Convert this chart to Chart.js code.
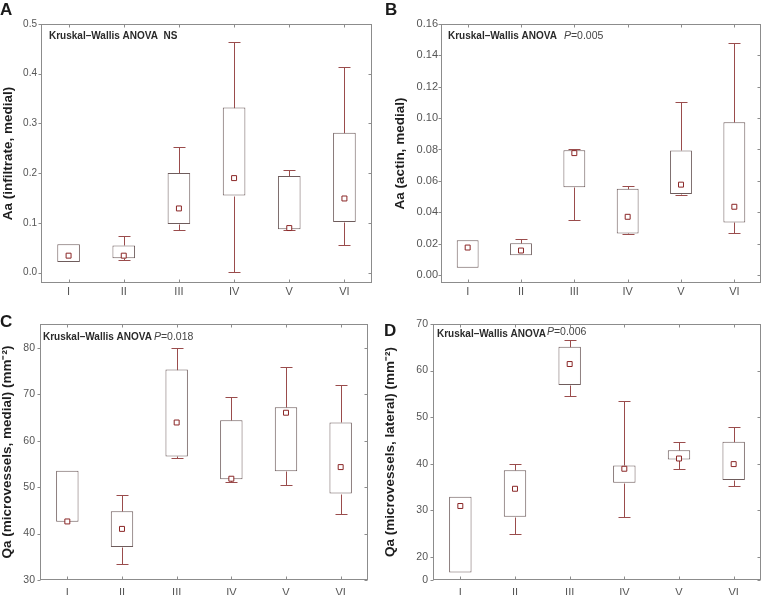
<!DOCTYPE html>
<html>
<head>
<meta charset="utf-8">
<script src="https://cdn.jsdelivr.net/npm/chart.js@4.4.0/dist/chart.umd.min.js"></script>
<style>
    html, body { margin: 0; padding: 0; background: #fff; }
    #wrap { position: relative; width: 766px; height: 595px; overflow: hidden; background: #fff; }
    #wrap canvas { position: absolute; }
    .tag { position: absolute; font: bold 17px "Liberation Sans", Arial, sans-serif; line-height: 17px; color: #1a1a1a; }
</style>
</head>
<body>
<div id="wrap">
    <canvas id="chartA" width="383" height="300" style="left:0;top:0"></canvas>
    <canvas id="chartB" width="383" height="300" style="left:383px;top:0"></canvas>
    <canvas id="chartC" width="383" height="300" style="left:0;top:295px"></canvas>
    <canvas id="chartD" width="383" height="300" style="left:383px;top:295px"></canvas>
    <div class="tag" style="left:0;top:1px">A</div>
    <div class="tag" style="left:385px;top:1px">B</div>
    <div class="tag" style="left:0;top:313px">C</div>
    <div class="tag" style="left:384px;top:322px">D</div>
</div>
<script>
// Groups
const groups = ['I', 'II', 'III', 'IV', 'V', 'VI'];

// A - Aa (infiltrate, medial)
const aMin = [null, 0.025, 0.0855, 0.0007, 0.0855, 0.055];
const aQ1  = [0.021, 0.029, 0.0976, 0.155, 0.087, 0.1016];
const aMed = [0.034, 0.034, 0.129, 0.19, 0.0895, 0.149];
const aQ3  = [0.057, 0.0545, 0.2005, 0.332, 0.194, 0.281];
const aMax = [null, 0.074, 0.252, 0.463, 0.206, 0.4125];
const aTicks = [0, 0.1, 0.2, 0.3, 0.4, 0.5];
const aTickLabels = ['0.0', '0.1', '0.2', '0.3', '0.4', '0.5'];

// B - Aa (actin, medial)
const bMin = [null, null, 0.0348, 0.026, 0.0508, 0.0267];
const bQ1  = [0.0047, 0.0126, 0.0559, 0.0265, 0.0516, 0.0335];
const bMed = [0.0175, 0.0156, 0.0777, 0.0371, 0.0576, 0.0435];
const bQ3  = [0.0222, 0.0203, 0.0796, 0.055, 0.0794, 0.0973];
const bMax = [null, 0.023, 0.0802, 0.0565, 0.1105, 0.148];
const bTicks = [0, 0.02, 0.04, 0.06, 0.08, 0.10, 0.12, 0.14, 0.16];
const bTickLabels = ['0.00', '0.02', '0.04', '0.06', '0.08', '0.10', '0.12', '0.14', '0.16'];

// C - Qa (microvessels, medial)
const cMin = [null, 33.4, 56.3, 51.2, 50.4, 44.3];
const cQ1  = [42.55, 37.1, 56.6, 51.7, 53.4, 48.6];
const cMed = [42.6, 41.0, 63.9, 51.8, 66.0, 54.3];
const cQ3  = [53.5, 44.8, 75.3, 64.4, 67.2, 63.9];
const cMax = [null, 48.4, 79.9, 69.3, 75.8, 72.0];
const cTicks = [30, 40, 50, 60, 70, 80];
const cTickLabels = ['30', '40', '50', '60', '70', '80'];

// D - Qa (microvessels, lateral); axis is broken, bottom tick stands for 0
const dMin = [null, 24.9, 54.6, 28.5, 38.9, 35.3];
const dQ1  = [16.6, 28.6, 56.9, 35.9, 40.9, 36.5];
const dMed = [30.9, 34.6, 61.4, 38.9, 41.1, 39.9];
const dQ3  = [32.9, 38.6, 65.1, 39.6, 42.9, 44.7];
const dMax = [null, 39.86, 66.6, 53.4, 44.7, 47.9];
const dTicks = [15, 20, 30, 40, 50, 60, 70];
const dTickLabels = ['0', '20', '30', '40', '50', '60', '70'];

const BOX_COLOR = '#6e5c5c';
const WHISKER_COLOR = '#9a4c4c';
const MEDIAN_COLOR = '#8a2626';
const FRAME_COLOR = '#8c8c8c';
const FONT = '"Liberation Sans", Arial, sans-serif';

const crisp = v => Math.round(v) + 0.5;

// whisker stems and caps, drawn from the min / max arrays
const whiskerPlugin = {
    id: 'whiskers',
    beforeDatasetsDraw(chart, args, opts) {
        const ctx = chart.ctx;
        const xs = chart.scales.x, ys = chart.scales.y;
        ctx.save();
        ctx.strokeStyle = WHISKER_COLOR;
        ctx.lineWidth = 1;
        ctx.beginPath();
        groups.forEach((g, i) => {
            const x = crisp(xs.getPixelForValue(i));
            [[opts.max[i], opts.q3[i]], [opts.min[i], opts.q1[i]]].forEach(([end, edge]) => {
                if (end === null) return;
                const ye = crisp(ys.getPixelForValue(end));
                const yb = crisp(ys.getPixelForValue(edge));
                ctx.moveTo(x, ye); ctx.lineTo(x, yb);
                ctx.moveTo(x - 6, ye); ctx.lineTo(x + 6, ye);
            });
        });
        ctx.stroke();
        ctx.restore();
    }
};

// frame, small tick marks and the test note
const framePlugin = {
    id: 'frame',
    afterDraw(chart, args, opts) {
        const ctx = chart.ctx;
        const area = chart.chartArea;
        const l = Math.round(area.left) + 0.5, r = Math.round(area.right) - 0.5;
        const t = Math.round(area.top) + 0.5, b = Math.round(area.bottom) - 0.5;
        ctx.save();
        ctx.strokeStyle = FRAME_COLOR;
        ctx.lineWidth = 1;
        ctx.strokeRect(l, t, r - l, b - t);

        ctx.beginPath();
        chart.scales.y.ticks.forEach(tk => {
            const y = crisp(chart.scales.y.getPixelForValue(tk.value));
            ctx.moveTo(l - 3, y); ctx.lineTo(l, y);
            ctx.moveTo(r - 3, y); ctx.lineTo(r, y);
        });
        groups.forEach((g, i) => {
            const x = crisp(chart.scales.x.getPixelForValue(i));
            ctx.moveTo(x, t); ctx.lineTo(x, t + 3);
            ctx.moveTo(x, b); ctx.lineTo(x, b - 3);
        });
        ctx.stroke();

        // Kruskal-Wallis note
        const n = opts.note;
        if (n) {
            let x = area.left + n.dx;
            const y = area.top + n.dy;
            ctx.fillStyle = '#2a2a2a';
            ctx.textBaseline = 'middle';
            ctx.textAlign = 'left';
            ctx.font = 'bold 10px ' + FONT;
            ctx.fillText(n.label, x, y);
            if (n.p) {
                x += ctx.measureText(n.label).width + n.gap;
                ctx.fillStyle = '#444';
                ctx.font = 'italic 10.5px ' + FONT;
                ctx.fillText('P', x, y + n.pDy);
                x += ctx.measureText('P').width;
                ctx.font = '10.5px ' + FONT;
                ctx.fillText('=' + n.p, x, y + n.pDy);
            }
        }
        ctx.restore();
    }
};

function makePanel(id, s) {
    const box = s.q1.map((v, i) => [v, s.q3[i]]);

    return new Chart(document.getElementById(id), {
        type: 'bar',
        data: {
            labels: groups,
            datasets: [
                {
                    // box 25%-75%
                    data: box,
                    barPercentage: 0.41,
                    categoryPercentage: 1,
                    backgroundColor: '#ffffff',
                    borderColor: BOX_COLOR,
                    borderWidth: 1,
                    borderSkipped: false,
                    order: 4
                },
                {
                    // median
                    type: 'line',
                    data: s.med,
                    showLine: false,
                    pointStyle: 'rect',
                    pointRadius: 3.5,
                    pointBorderWidth: 1,
                    pointBackgroundColor: '#ffffff',
                    pointBorderColor: MEDIAN_COLOR,
                    order: 1
                }
            ]
        },
        options: {
            responsive: false,
            devicePixelRatio: 1,
            animation: false,
            events: [],
            layout: {
                padding: { left: 0, top: s.top, right: s.right, bottom: 0 }
            },
            plugins: {
                legend: { display: false },
                tooltip: { enabled: false },
                frame: { note: s.note },
                whiskers: { min: s.min, q1: s.q1, q3: s.q3, max: s.max }
            },
            scales: {
                x: {
                    offset: true,
                    grid: { display: false, drawTicks: false },
                    border: { display: false },
                    ticks: {
                        padding: s.xPad,
                        color: '#555',
                        font: { family: FONT, size: 11 }
                    },
                    afterFit: function(scale) { scale.height = s.xHeight; }
                },
                y: {
                    min: s.yMin,
                    max: s.yMax,
                    grid: { display: false, drawTicks: false },
                    border: { display: false },
                    afterBuildTicks: function(scale) {
                        scale.ticks = s.ticks.map(v => ({ value: v }));
                    },
                    ticks: {
                        padding: s.tickPad,
                        color: '#555',
                        font: { family: FONT, size: s.tickSize },
                        callback: function(value, index) { return s.tickLabels[index]; }
                    },
                    title: {
                        display: true,
                        text: s.title,
                        color: '#1e1e1e',
                        padding: { top: s.titlePad, bottom: 0 },
                        font: { family: FONT, size: 13.5, weight: 'bold', lineHeight: 1 }
                    },
                    afterFit: function(scale) { scale.width = s.yWidth; }
                }
            }
        },
        plugins: [whiskerPlugin, framePlugin]
    });
}

makePanel('chartA', {
    min: aMin, q1: aQ1, med: aMed, q3: aQ3, max: aMax,
    ticks: aTicks, tickLabels: aTickLabels, yMin: -0.021, yMax: 0.5,
    title: 'Aa (infiltrate, medial)',
    top: 24, right: 11, yWidth: 41, xHeight: 17, xPad: 2, tickPad: 4, tickSize: 10, titlePad: 1.5,
    note: { label: 'Kruskal\u2013Wallis ANOVA  NS', dx: 8, dy: 12 }
});

makePanel('chartB', {
    min: bMin, q1: bQ1, med: bMed, q3: bQ3, max: bMax,
    ticks: bTicks, tickLabels: bTickLabels, yMin: -0.0051, yMax: 0.16,
    title: 'Aa (actin, medial)',
    top: 24, right: 2, yWidth: 58, xHeight: 17, xPad: 2, tickPad: 3, tickSize: 11, titlePad: 11,
    note: { label: 'Kruskal\u2013Wallis ANOVA', p: '0.005', gap: 7, pDy: 0, dx: 7, dy: 12 }
});

makePanel('chartC', {
    min: cMin, q1: cQ1, med: cMed, q3: cQ3, max: cMax,
    ticks: cTicks, tickLabels: cTickLabels, yMin: 30, yMax: 85.1,
    title: 'Qa (microvessels, medial) (mm\u207B\u00B2)',
    top: 29, right: 15, yWidth: 40, xHeight: 15, xPad: 6, tickPad: 5, tickSize: 10.5, titlePad: 1,
    note: { label: 'Kruskal\u2013Wallis ANOVA', p: '0.018', gap: 2, pDy: 0, dx: 3, dy: 13.5 }
});

makePanel('chartD', {
    min: dMin, q1: dQ1, med: dMed, q3: dQ3, max: dMax,
    ticks: dTicks, tickLabels: dTickLabels, yMin: 15, yMax: 70,
    title: 'Qa (microvessels, lateral) (mm\u207B\u00B2)',
    top: 29, right: 2, yWidth: 50, xHeight: 15, xPad: 6, tickPad: 5, tickSize: 10.5, titlePad: 1,
    note: { label: 'Kruskal\u2013Wallis ANOVA', p: '0.006', gap: 1, pDy: -2, dx: 4, dy: 10.5 }
});
</script>
</body>
</html>
